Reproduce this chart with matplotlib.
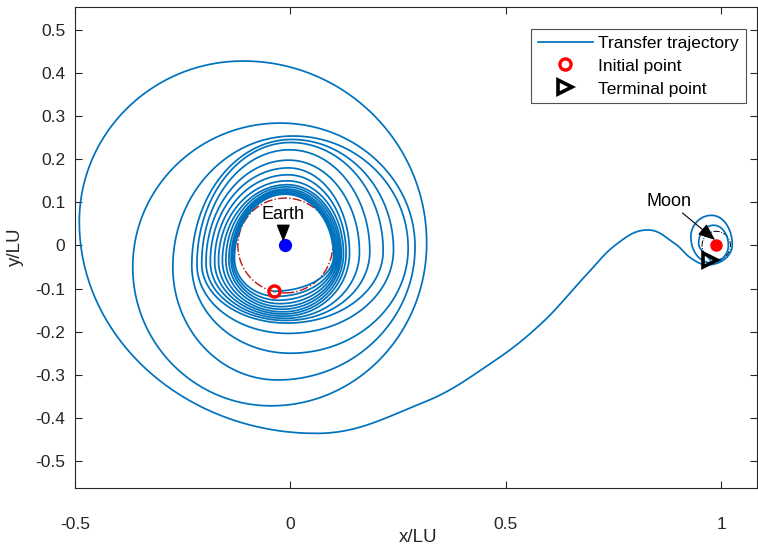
import numpy as np
import matplotlib
matplotlib.use("Agg")
import matplotlib.pyplot as plt
from matplotlib.path import Path
from matplotlib.patches import Circle

plt.rcParams['font.family'] = ['Liberation Sans', 'DejaVu Sans']

MU = 0.01215
earth = (-MU, 0.0)
moon = (1 - MU, 0.0)
r_geo = 0.11
r_llo = 0.033

# extremes of each revolution of the spiral, counter-clockwise:
# bottom -> right -> top -> left -> next bottom
bottom_x = [-0.038, -0.032, -0.028, -0.025, -0.022, -0.02, -0.018, -0.016, -0.014,
            -0.012, -0.01, -0.008, -0.005, 0.0, -0.03, -0.045, 0.06]
bottom_y = [-0.106, -0.118, -0.127, -0.135, -0.142, -0.148, -0.154, -0.159, -0.164,
            -0.169, -0.174, -0.18, -0.204, -0.25, -0.312, -0.372, -0.436]
right_x = [0.1, 0.103, 0.106, 0.11, 0.114, 0.118, 0.123, 0.129, 0.137, 0.16,
           0.184, 0.215, 0.239, 0.273, 0.289, 0.316]
right_y = [-0.025, -0.024, -0.023, -0.022, -0.021, -0.02, -0.019, -0.018, -0.017,
           -0.016, -0.014, -0.012, -0.01, -0.006, -0.003, 0.006]
top_x = [-0.012, -0.012, -0.011, -0.01, -0.009, -0.008, -0.007, -0.006, -0.005,
         -0.004, -0.002, 0.0, 0.003, 0.006, -0.024, -0.11]
top_y = [0.119, 0.123, 0.127, 0.131, 0.136, 0.141, 0.15, 0.164, 0.18, 0.198,
         0.222, 0.239, 0.246, 0.254, 0.284, 0.428]
left_x = [-0.13, -0.134, -0.138, -0.143, -0.15, -0.158, -0.167, -0.176, -0.186,
          -0.196, -0.206, -0.217, -0.229, -0.273, -0.366, -0.49]
left_y = [-0.03, -0.031, -0.032, -0.033, -0.034, -0.035, -0.036, -0.037, -0.038,
          -0.04, -0.042, -0.044, -0.046, -0.05, -0.05, 0.055]

# Earth-Moon leg after the last perigee
leg_x = [0.309, 0.464, 0.581, 0.682, 0.759, 0.829, 0.891, 0.93]
leg_y = [-0.364, -0.274, -0.182, -0.073, 0.005, 0.036, 0.005, -0.03]

# loops around the Moon, ending at the terminal point
lunar_x = [0.967, 1.025, 0.977, 0.929, 0.975, 1.016, 0.982, 0.947, 0.974]
lunar_y = [-0.045, 0.002, 0.07, 0.02, -0.04, 0.0, 0.047, 0.005, -0.034]
lunar_kind = ['h', 'v', 'h', 'v', 'h', 'v', 'h', 'v', 'c']

x0, y0 = bottom_x[0], bottom_y[0]
xf, yf = lunar_x[-1], lunar_y[-1]

# waypoint list with tangent type: h = horizontal, v = vertical, c = free
pts, kinds = [], []
for k in range(len(top_y)):
    pts += [(bottom_x[k], bottom_y[k]), (right_x[k], right_y[k]),
            (top_x[k], top_y[k]), (left_x[k], left_y[k])]
    kinds += ['h', 'v', 'h', 'v']
pts.append((bottom_x[-1], bottom_y[-1]))
kinds.append('h')
pts += list(zip(leg_x, leg_y))
kinds += ['c'] * len(leg_x)
pts += list(zip(lunar_x, lunar_y))
kinds += lunar_kind
pts = np.array(pts)
n = len(pts)


def handle(i, chord):
    # control-point offset at waypoint i for a segment with the given chord
    if kinds[i] == 'h':
        return np.array([chord[0], 0.0])
    if kinds[i] == 'v':
        return np.array([0.0, chord[1]])
    d = pts[min(i + 1, n - 1)] - pts[max(i - 1, 0)]
    return d / np.hypot(*d) * np.hypot(*chord)


verts = [pts[0]]
codes = [Path.MOVETO]
for i in range(n - 1):
    p, q = pts[i], pts[i + 1]
    chord = q - p
    kap = 0.5523 if kinds[i] != 'c' and kinds[i + 1] != 'c' else 0.38
    verts += [p + kap * handle(i, chord), q - kap * handle(i + 1, chord), q]
    codes += [Path.CURVE4] * 3

# sample the cubic segments so the line is drawn smooth
tt = np.linspace(0, 1, 40)
traj = np.vstack([seg(tt) for seg, _ in Path(verts, codes).iter_bezier()])

blue = '#0072BD'
fig = plt.figure(figsize=(7.58, 5.49), dpi=100)
ax = fig.add_axes([75 / 758, 1 - 487.5 / 549, 682 / 758, 481 / 549])

ax.plot(traj[:, 0], traj[:, 1], color=blue, lw=1.25, zorder=3,
        solid_joinstyle='round', label='Transfer trajectory')
ax.add_patch(Circle(earth, r_geo, fill=False, ls='-.', ec='#B51414', lw=1.0, zorder=2))
ax.add_patch(Circle(moon, r_llo, fill=False, ls='-.', ec='k', lw=0.7, zorder=2))

ax.plot(x0, y0, 'o', ms=8, mfc='none', mec='red', mew=2.4, zorder=5,
        label='Initial point')
ax.plot(xf, yf, '>', ms=10, mfc='none', mec='k', mew=2.6, zorder=5,
        label='Terminal point')
ax.plot(*earth, 'o', ms=8.5, color='blue', zorder=4)
ax.plot(*moon, 'o', ms=8, color='red', zorder=4)

arrow = dict(arrowstyle='-|>,head_length=0.8,head_width=0.32', color='k', lw=1.0,
             shrinkA=0, shrinkB=0)
ax.annotate('Earth', xy=(-0.0167, 0.009), xytext=(-0.0167, 0.052), fontsize=13,
            arrowprops=arrow, ha='center', va='bottom', zorder=6)
ax.annotate('Moon', xy=(0.985, 0.013), xytext=(0.93, 0.082), fontsize=13,
            arrowprops=dict(arrow, lw=0.8), ha='right', va='bottom', zorder=6)

ax.set_xlim(-0.5, 1.0824)
ax.set_ylim(-0.5615, 0.5545)
ax.set_xticks([-0.5, 0, 0.5, 1])
ax.set_xticklabels(['-0.5', '0', '0.5', '1'])
yt = np.round(np.arange(-0.5, 0.51, 0.1), 1)
ax.set_yticks(yt)
ax.set_yticklabels(['0' if v == 0 else f'{v:.1f}' for v in yt])

gray = '#262626'
for s in ax.spines.values():
    s.set_color(gray)
    s.set_linewidth(0.8)
ax.tick_params(direction='in', top=True, right=True, length=5, width=0.8,
               colors=gray, labelsize=12.5, labelcolor=gray)
ax.tick_params(axis='x', pad=21)
ax.tick_params(axis='y', pad=7)

ax.set_xlabel('x/LU', fontsize=13.5, color=gray)
ax.set_ylabel('y/LU', fontsize=13.5, color=gray)
ax.xaxis.set_label_coords((418 - 75) / 682, (487 - 529) / 481)
ax.yaxis.set_label_coords((24 - 75) / 682, 0.5)

leg = ax.legend(loc='upper right', bbox_to_anchor=((746 - 75) / 682, (487 - 28) / 481),
                borderaxespad=0, fontsize=12.5, frameon=True, fancybox=False,
                handlelength=3.2, handletextpad=0.3, labelspacing=0.45,
                borderpad=0.4)
leg.get_frame().set_edgecolor(gray)
leg.get_frame().set_linewidth(0.8)

fig.savefig('out.png', dpi=100)
